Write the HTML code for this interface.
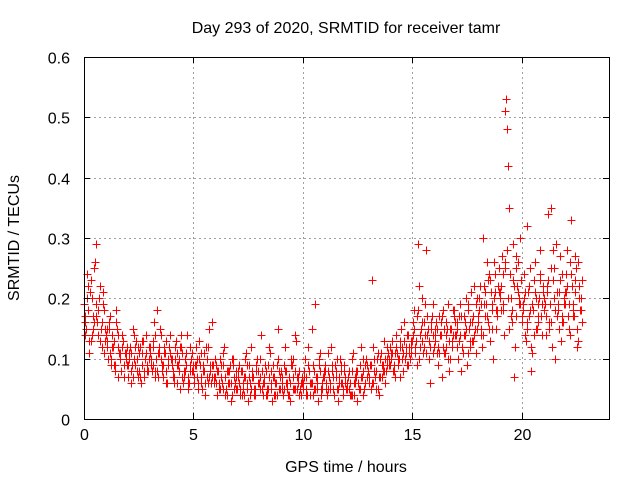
<!DOCTYPE html>
<html><head><meta charset="utf-8"><style>
body{margin:0;background:#fff}
svg{display:block;font-family:"Liberation Sans",sans-serif}
</style></head><body>
<svg id="chart" width="640" height="480" viewBox="0 0 640 480"></svg>
<script>
const xTicks=[0,5,10,15,20];
const yTicks=[0,0.1,0.2,0.3,0.4,0.5,0.6];
const yTickLabels=["0","0.1","0.2","0.3","0.4","0.5","0.6"];
const seriesA=[.19,.15,.22,.13,.17,.26,.16,.20,.12,.18,
.14,.10,.17,.12,.09,.15,.11,.08,.13,.10,
.07,.12,.09,.14,.08,.11,.06,.13,.10,.09,
.12,.08,.16,.10,.07,.14,.09,.11,.06,.12,
.10,.07,.13,.09,.05,.11,.08,.14,.06,.10,
.08,.12,.06,.09,.05,.11,.07,.15,.06,.09,
.07,.04,.10,.06,.12,.05,.08,.03,.09,.06,
.05,.09,.04,.07,.11,.03,.06,.08,.05,.10,
.06,.14,.04,.08,.05,.11,.03,.07,.09,.05,
.08,.04,.12,.06,.03,.09,.05,.13,.07,.04,
.06,.10,.04,.08,.15,.05,.07,.03,.11,.06,
.09,.04,.07,.12,.05,.08,.03,.10,.06,.09,
.05,.08,.04,.11,.06,.03,.09,.07,.05,.10,
.08,.05,.12,.07,.10,.04,.09,.13,.08,.11,
.09,.13,.07,.11,.10,.15,.08,.12,.14,.10,
.13,.18,.09,.22,.15,.11,.19,.14,.06,.17,
.12,.16,.09,.14,.18,.11,.15,.08,.13,.17,
.14,.10,.19,.12,.16,.09,.15,.21,.13,.11,
.17,.22,.12,.19,.26,.15,.21,.10,.24,.18,
.20,.27,.14,.53,.42,.17,.29,.12,.22,.19,
.16,.24,.13,.21,.18,.11,.26,.15,.20,.17,
.22,.14,.34,.19,.12,.25,.17,.21,.13,.16,
.19,.28,.14,.22,.17,.25,.13,.20];
const seriesB=[.14,.24,.11,.20,.16,.29,.18,.13,.21,.15,
.12,.16,.09,.13,.18,.07,.11,.14,.09,.12,
.10,.06,.15,.09,.12,.07,.11,.08,.14,.10,
.09,.13,.07,.18,.11,.08,.12,.06,.10,.14,
.08,.12,.06,.10,.14,.07,.09,.05,.12,.08,
.06,.10,.13,.07,.09,.04,.12,.08,.16,.07,
.09,.05,.07,.11,.04,.08,.06,.10,.05,.07,
.08,.04,.06,.10,.05,.07,.12,.04,.08,.06,
.10,.05,.07,.04,.12,.06,.09,.04,.15,.07,
.05,.09,.06,.04,.10,.07,.14,.05,.08,.06,
.08,.05,.12,.06,.04,.19,.07,.09,.05,.08,
.06,.11,.05,.08,.04,.10,.06,.09,.05,.07,
.07,.04,.10,.06,.08,.05,.12,.04,.09,.07,
.06,.23,.08,.05,.11,.07,.09,.06,.12,.10,
.11,.08,.14,.10,.07,.12,.16,.09,.11,.13,
.16,.11,.29,.14,.20,.12,.28,.10,.15,.19,
.14,.11,.17,.07,.15,.12,.19,.10,.14,.16,
.12,.17,.08,.14,.20,.11,.16,.13,.22,.15,
.20,.14,.30,.17,.23,.13,.19,.26,.15,.21,
.18,.24,.51,.48,.35,.16,.07,.25,.21,.30,
.19,.14,.32,.17,.08,.23,.15,.19,.28,.14,
.18,.21,.15,.35,.23,.10,.19,.27,.16,.20,
.24,.15,.33,.18,.27,.12,.22,.16];
const seriesC=[.17,.20,.13,.23,.15,.19,.14,.22,.16,.11,
.13,.15,.10,.12,.08,.14,.10,.12,.07,.11,
.09,.11,.07,.12,.10,.08,.13,.07,.11,.08,
.11,.09,.14,.08,.12,.10,.07,.13,.09,.11,
.09,.06,.11,.08,.12,.06,.10,.07,.09,.11,
.07,.09,.05,.11,.08,.06,.10,.07,.09,.06,
.06,.08,.05,.09,.07,.04,.08,.06,.10,.05,
.07,.05,.08,.04,.06,.09,.05,.07,.04,.08,
.05,.08,.06,.04,.09,.05,.07,.06,.04,.08,
.07,.05,.08,.04,.06,.10,.05,.07,.04,.06,
.05,.07,.09,.04,.06,.08,.05,.10,.04,.07,
.08,.05,.06,.09,.04,.07,.05,.08,.04,.06,
.06,.05,.08,.04,.07,.06,.05,.08,.06,.09,
.07,.09,.06,.08,.05,.10,.07,.08,.10,.09,
.10,.08,.11,.09,.12,.10,.13,.11,.09,.12,
.14,.12,.17,.10,.13,.16,.11,.15,.12,.14,
.13,.15,.11,.16,.12,.14,.10,.15,.12,.18,
.15,.13,.17,.11,.14,.18,.12,.16,.14,.19,
.16,.19,.14,.21,.17,.24,.15,.20,.18,.22,
.21,.18,.25,.28,.15,.20,.23,.17,.26,.19,
.17,.20,.15,.22,.12,.18,.21,.16,.23,.19,
.20,.17,.23,.16,.28,.18,.21,.15,.24,.19,
.21,.17,.26,.19,.23,.15,.20,.18];
const seriesD=[.16,.18,.21,.14,.25,.17,.20,.15,.19,.13,
.15,.11,.14,.09,.16,.12,.10,.13,.11,.09,
.11,.08,.10,.13,.07,.12,.09,.10,.08,.12,
.10,.12,.08,.11,.15,.09,.11,.08,.12,.10,
.07,.10,.09,.12,.07,.08,.11,.06,.08,.09,
.09,.07,.10,.06,.08,.12,.06,.09,.07,.10,
.08,.06,.09,.05,.07,.06,.09,.04,.07,.08,
.06,.08,.05,.07,.09,.04,.07,.05,.09,.06,
.07,.06,.09,.05,.07,.08,.04,.06,.10,.05,
.06,.08,.05,.07,.09,.05,.08,.06,.05,.07,
.07,.04,.08,.06,.09,.05,.06,.08,.05,.07,
.05,.08,.06,.07,.09,.05,.07,.06,.08,.05,
.07,.06,.04,.07,.08,.05,.07,.10,.06,.08,
.09,.06,.10,.08,.07,.11,.08,.10,.09,.12,
.11,.09,.12,.10,.13,.11,.10,.14,.12,.11,
.15,.13,.18,.12,.16,.14,.17,.13,.16,.11,
.15,.12,.14,.17,.11,.16,.13,.15,.18,.14,
.16,.14,.12,.17,.15,.19,.13,.17,.15,.20,
.18,.15,.22,.19,.16,.23,.18,.21,.17,.25,
.22,.19,.26,.20,.24,.18,.22,.27,.20,.23,
.18,.21,.16,.25,.19,.14,.20,.17,.24,.21,
.19,.22,.16,.25,.20,.29,.18,.23,.17,.21,
.22,.19,.24,.17,.21,.26,.18,.23];
const timeStep=0.1;

const L=84,R=609,T=57,B=419,XMAX=24,YMAX=0.6;
const xs=v=>L+(R-L)*v/XMAX;
const ys=v=>B-(B-T)*v/YMAX;
const svg=document.getElementById('chart');
const NS='http://www.w3.org/2000/svg';
function mk(tag,attrs,parent){const e=document.createElementNS(NS,tag);for(const k in attrs)e.setAttribute(k,attrs[k]);(parent||svg).appendChild(e);return e;}

const grid=mk('g',{stroke:'#a0a0a0','stroke-width':1,'stroke-dasharray':'2,3'});


xTicks.forEach(t=>{if(t>0){const x=Math.round(xs(t))+.5;mk('line',{x1:x,x2:x,y1:T,y2:B},grid);}});
yTicks.forEach(t=>{if(t>0&&t<YMAX){const y=Math.round(ys(t))+.5;mk('line',{x1:L,x2:R,y1:y,y2:y},grid);}});

const pts=mk('g',{});


function plot(arr,off){arr.forEach((v,i)=>{const x=Math.round(xs(i*timeStep+off))+.5,y=Math.round(ys(v))+.5;
const p=mk('path',{d:`M${x-4},${y}H${x+4}M${x},${y-4}V${y+4}`,stroke:'#ff0000','stroke-width':1,fill:'none'},pts);

});}
plot(seriesA,0);plot(seriesC,0.033);plot(seriesB,0.05);plot(seriesD,0.066);

const axes=mk('g',{stroke:'#000','stroke-width':1,fill:'none'});


mk('rect',{x:L+.5,y:T+.5,width:R-L,height:B-T},axes);
xTicks.forEach(t=>{const x=Math.round(xs(t))+.5;mk('line',{x1:x,x2:x,y1:B,y2:B-6},axes);mk('line',{x1:x,x2:x,y1:T,y2:T+6},axes);
const tx=mk('text',{x:x,y:B+21,'text-anchor':'middle','font-size':16,fill:'#000',stroke:'none'});tx.textContent=t;

});
yTicks.forEach((t,i)=>{const y=Math.round(ys(t))+.5;mk('line',{x1:L,x2:L+6,y1:y,y2:y},axes);mk('line',{x1:R,x2:R-6,y1:y,y2:y},axes);
const tx=mk('text',{x:L-14,y:y+6,'text-anchor':'end','font-size':16,fill:'#000',stroke:'none'});tx.textContent=yTickLabels[i];

});

const title=mk('text',{x:346,y:33,'text-anchor':'middle','font-size':16,fill:'#000'});title.textContent='Day 293 of 2020, SRMTID for receiver tamr';


const xl=mk('text',{x:346,y:472,'text-anchor':'middle','font-size':16,fill:'#000'});xl.textContent='GPS time / hours';


const yl=mk('text',{x:0,y:0,'text-anchor':'middle','font-size':16,fill:'#000',transform:'translate(19,238) rotate(-90)'});yl.textContent='SRMTID / TECUs';


</script>
</body></html>
